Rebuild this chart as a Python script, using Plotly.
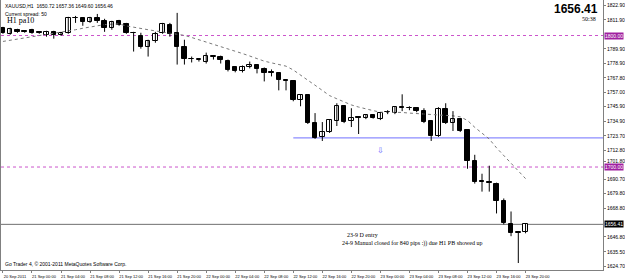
import plotly.graph_objects as go

# ---------------- data (XAUUSD H1, 20 Sep 2011 20:00 .. 23 Sep 2011 20:00) -------------
opens = [1805.9, 1801.3, 1804.4, 1803.2, 1804.4, 1802.4, 1800.6, 1802.8, 1800.6, 1802.1,
         1813.4, 1813.1, 1810.4, 1813.4, 1811.2, 1805.9, 1811.2, 1808.9, 1802.1, 1799.8,
         1791.5, 1796.1, 1802.1, 1808.1, 1802.1, 1791.5, 1782.5, 1781.7, 1779.5, 1784.0,
         1784.0, 1781.0, 1775.7, 1772.7, 1775.7, 1777.2, 1774.9, 1771.9, 1771.2, 1765.9,
         1765.1, 1750.8, 1754.5, 1733.4, 1722.9, 1726.6, 1734.9, 1746.2, 1734.9, 1737.9,
         1737.2, 1739.5, 1736.4, 1741.7, 1741.0, 1745.5, 1744.7, 1744.7, 1742.5, 1734.9,
         1723.6, 1744.0, 1733.4, 1736.4, 1728.1, 1704.7, 1689.1, 1688.3, 1687.4, 1673.8,
         1656.4, 1650.0, 1650.72]
highs = [1806.6, 1805.9, 1805.1, 1803.6, 1805.1, 1802.8, 1803.6, 1803.6, 1802.8, 1814.2,
         1814.9, 1813.9, 1814.2, 1816.4, 1812.7, 1811.2, 1811.9, 1809.6, 1802.8, 1802.1,
         1796.8, 1802.8, 1809.6, 1809.6, 1817.2, 1796.8, 1784.0, 1782.5, 1787.0, 1784.7,
         1784.7, 1781.7, 1776.4, 1777.2, 1780.2, 1777.9, 1775.7, 1774.2, 1771.9, 1766.6,
         1765.9, 1755.3, 1755.3, 1741.0, 1734.2, 1736.4, 1748.5, 1747.0, 1744.7, 1738.7,
         1740.2, 1740.2, 1741.7, 1743.2, 1746.2, 1755.3, 1746.2, 1745.5, 1744.7, 1735.7,
         1745.5, 1748.5, 1742.5, 1737.2, 1728.9, 1709.3, 1694.9, 1701.0, 1688.1, 1676.1,
         1666.2, 1651.1, 1657.36]
lows = [1801.3, 1800.6, 1802.1, 1802.1, 1801.3, 1801.3, 1799.1, 1797.6, 1799.8, 1801.3,
        1809.6, 1807.4, 1809.6, 1809.6, 1802.8, 1804.4, 1807.4, 1801.3, 1787.8, 1790.0,
        1784.0, 1794.5, 1801.3, 1799.1, 1777.9, 1777.9, 1779.5, 1780.2, 1778.7, 1781.7,
        1778.7, 1772.7, 1772.0, 1771.9, 1775.0, 1771.2, 1765.1, 1768.9, 1758.3, 1758.3,
        1750.0, 1746.2, 1732.7, 1721.4, 1719.8, 1725.9, 1731.2, 1733.4, 1730.4, 1725.1,
        1736.4, 1736.8, 1735.7, 1740.2, 1740.2, 1742.5, 1743.2, 1741.7, 1733.4, 1719.8,
        1722.9, 1732.7, 1727.4, 1726.6, 1698.7, 1687.4, 1681.3, 1681.3, 1664.7, 1656.4,
        1647.4, 1627.0, 1649.60]
closes = [1802.1, 1805.1, 1802.8, 1802.8, 1802.1, 1802.1, 1802.8, 1800.6, 1802.1, 1813.4,
          1813.1, 1810.4, 1813.4, 1811.2, 1805.9, 1810.4, 1808.1, 1802.1, 1801.7, 1791.5,
          1796.1, 1801.3, 1808.9, 1801.3, 1791.5, 1782.5, 1782.2, 1781.9, 1784.7, 1784.2,
          1781.7, 1773.4, 1772.7, 1776.4, 1777.9, 1774.2, 1771.2, 1771.7, 1765.9, 1765.6,
          1750.8, 1754.5, 1733.4, 1722.1, 1726.6, 1735.7, 1746.2, 1734.2, 1737.2, 1737.6,
          1739.5, 1737.2, 1741.0, 1741.9, 1745.5, 1745.2, 1744.9, 1742.5, 1734.2, 1723.6,
          1744.0, 1733.4, 1736.4, 1727.4, 1704.7, 1688.9, 1688.9, 1688.1, 1673.8, 1657.2,
          1649.6, 1650.7, 1656.46]
ma_values = [1795.5, 1796.4, 1797.3, 1798.1, 1799.0, 1799.9, 1800.7, 1801.6, 1802.2, 1803.2,
             1804.4, 1805.5, 1806.6, 1807.7, 1808.3, 1808.6, 1808.8, 1807.3, 1806.2, 1805.3,
             1804.4, 1803.5, 1802.7, 1801.7, 1800.9, 1800.1, 1798.5, 1796.8, 1795.2, 1793.4,
             1791.8, 1790.2, 1788.2, 1786.3, 1784.4, 1782.3, 1780.5, 1779.2, 1778.0, 1776.7,
             1773.8, 1769.6, 1766.0, 1762.2, 1758.0, 1754.3, 1751.9, 1749.4, 1747.2, 1745.6,
             1744.1, 1742.9, 1741.7, 1741.7, 1741.7, 1741.5, 1741.0, 1740.7, 1740.4, 1740.0,
             1739.6, 1739.2, 1738.9, 1738.2, 1735.4, 1730.2, 1725.8, 1721.3, 1714.6, 1708.7,
             1702.9, 1696.4, 1691.2]
bars = list(range(len(opens)))

x_ticklabels = ["20 Sep 2011", "21 Sep 00:00", "21 Sep 04:00", "21 Sep 08:00", "21 Sep 12:00",
                "21 Sep 16:00", "21 Sep 20:00", "22 Sep 00:00", "22 Sep 04:00", "22 Sep 08:00",
                "22 Sep 12:00", "22 Sep 16:00", "22 Sep 20:00", "23 Sep 00:00", "23 Sep 04:00",
                "23 Sep 08:00", "23 Sep 12:00", "23 Sep 16:00", "23 Sep 20:00"]
bars_per_label = 4
x_tickvals = [i * bars_per_label for i in range(len(x_ticklabels))]

y_tickvals = [1624.7, 1635.5, 1646.8, 1668.8, 1679.8, 1690.7, 1704.2, 1712.8, 1723.7,
              1734.9, 1745.9, 1757.0, 1767.8, 1778.9, 1789.9, 1811.9, 1822.9]
y_ticklabels = ["1624.70", "1635.50", "1646.80", "1668.80", "1679.80", "1690.70", "1701.80",
                "1712.80", "1723.70", "1734.90", "1745.90", "1757.00", "1767.80", "1778.90",
                "1789.90", "1811.90", "1822.90"]

level_hi = 1800.00      # magenta dotted
level_lo = 1700.00      # magenta dotted
level_blue = 1722.1     # blue horizontal line
blue_start_bar = 40
bid = 1656.41
arrow_bar, arrow_price = 52, 1712.4
note_bar1, note_price1 = 47.1, 1648.1
note_bar2, note_price2 = 46.5, 1642.0

x_range = [-0.27, 82.67]
y_range = [1621.7, 1827.0]

# ---------------- candles built from the OHLC lists ----------------
wick_x, wick_y = [], []
for i, h, l in zip(bars, highs, lows):
    wick_x += [i, i, None]
    wick_y += [l, h, None]
body_base = [min(o, c) for o, c in zip(opens, closes)]
body_len = [max(abs(c - o), 0.15) for o, c in zip(opens, closes)]
body_fill = ["white" if c >= o else "black" for o, c in zip(opens, closes)]

fig = go.Figure()

fig.add_trace(go.Scatter(
    x=bars, y=ma_values, mode="lines",
    line=dict(color="#7a7a7a", width=1, dash="dot"),
    hoverinfo="skip", showlegend=False))

fig.add_trace(go.Scatter(
    x=wick_x, y=wick_y, mode="lines", line=dict(color="black", width=1),
    hoverinfo="skip", showlegend=False))

fig.add_trace(go.Bar(
    x=bars, y=body_len, base=body_base, width=0.62,
    marker=dict(color=body_fill, line=dict(color="black", width=1)),
    showlegend=False))

shapes = [
    dict(type="line", xref="x", yref="y", x0=x_range[0], x1=x_range[1], y0=level_hi, y1=level_hi,
         line=dict(color="#cc55cc", width=1, dash="dot"), layer="below"),
    dict(type="line", xref="x", yref="y", x0=x_range[0], x1=x_range[1], y0=level_lo, y1=level_lo,
         line=dict(color="#cc55cc", width=1, dash="dot"), layer="below"),
    dict(type="line", xref="x", yref="y", x0=blue_start_bar, x1=x_range[1], y0=level_blue, y1=level_blue,
         line=dict(color="#8c8cff", width=1.2), layer="below"),
    dict(type="line", xref="x", yref="y", x0=x_range[0], x1=x_range[1], y0=bid, y1=bid,
         line=dict(color="#707070", width=1), layer="below"),
]

ann = []
tiny = dict(family="Liberation Sans", size=5, color="black")
ann.append(dict(text="XAUUSD,H1  1650.72 1657.36 1649.60 1656.46", xref="paper", yref="paper",
                x=0.003, y=0.995, xanchor="left", yanchor="top", showarrow=False, font=tiny))
ann.append(dict(text="Current spread: 50", xref="paper", yref="paper",
                x=0.003, y=0.968, xanchor="left", yanchor="top", showarrow=False, font=tiny))
ann.append(dict(text="H1 pa10", xref="paper", yref="paper", x=0.007, y=0.95,
                xanchor="left", yanchor="top", showarrow=False,
                font=dict(family="Liberation Serif", size=8, color="black")))
ann.append(dict(text="<b>%.2f</b>" % bid, xref="paper", yref="paper", x=0.995, y=1.0,
                xanchor="right", yanchor="top", showarrow=False,
                font=dict(family="Liberation Sans", size=12, color="black")))
ann.append(dict(text="50:38", xref="paper", yref="paper", x=0.992, y=0.95,
                xanchor="right", yanchor="top", showarrow=False,
                font=dict(family="Liberation Serif", size=6, color="black")))
ann.append(dict(text="Go Trader 4, © 2001-2011 MetaQuotes Software Corp.", xref="paper", yref="paper",
                x=0.004, y=0.005, xanchor="left", yanchor="bottom", showarrow=False,
                font=dict(family="Liberation Sans", size=5, color="black")))
ann.append(dict(text="⇩", x=arrow_bar, y=arrow_price, xref="x", yref="y", showarrow=False,
                font=dict(family="DejaVu Sans", size=8, color="#6060ff")))
ann.append(dict(text="23-9 D entry", x=note_bar1, y=note_price1, xref="x", yref="y",
                xanchor="left", showarrow=False,
                font=dict(family="Liberation Serif", size=6, color="black")))
ann.append(dict(text="24-9 Manual closed for 840 pips :)) due H1 PB showed up", x=note_bar2,
                y=note_price2, xref="x", yref="y", xanchor="left", showarrow=False,
                font=dict(family="Liberation Serif", size=6, color="black")))
# highlighted price labels on the right scale
for val, bg in [(level_hi, "#a020a0"), (level_lo, "#a020a0"), (bid, "black")]:
    ann.append(dict(text="%.2f" % val, x=1.0, y=val, xref="paper", yref="y", xanchor="left",
                    xshift=1, showarrow=False, bgcolor=bg, borderpad=0,
                    font=dict(family="Liberation Sans", size=5, color="white")))

fig.update_layout(
    width=625, height=279,
    margin=dict(l=0, r=17, t=0, b=7),
    paper_bgcolor="white", plot_bgcolor="white",
    shapes=shapes, annotations=ann,
    showlegend=False, bargap=0,
    xaxis=dict(range=x_range, showgrid=False, zeroline=False,
               tickmode="array", tickvals=x_tickvals, ticktext=x_ticklabels,
               ticks="outside", ticklen=2, tickcolor="#808080",
               tickfont=dict(family="Liberation Sans", size=4, color="black"),
               ticklabelshift=12, ticklabelstandoff=0,
               showline=True, linecolor="#808080", linewidth=1),
    yaxis=dict(range=y_range, side="right", showgrid=False, zeroline=False,
               tickmode="array", tickvals=y_tickvals, ticktext=y_ticklabels,
               ticks="outside", ticklen=2, tickcolor="#808080",
               tickfont=dict(family="Liberation Sans", size=5, color="black"),
               ticklabelstandoff=0,
               showline=True, mirror=True, linecolor="#808080", linewidth=1),
)

fig.write_html("out.html")
